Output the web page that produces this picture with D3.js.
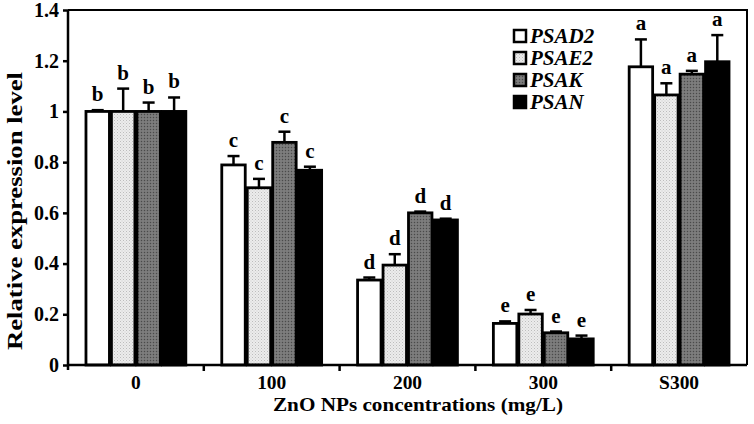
<!DOCTYPE html>
<html>
<head>
<meta charset="utf-8">
<script src="https://cdn.jsdelivr.net/npm/d3@7"></script>
<style>
  html, body { margin: 0; padding: 0; background: #fff; }
  svg { display: block; font-family: "Liberation Serif", "Times New Roman", serif; }
</style>
</head>
<body>
<svg id="chart" width="754" height="424"></svg>
<script>
// ---- data ----
const groups = ["0", "100", "200", "300", "S300"];
const seriesNames = ["PSAD2", "PSAE2", "PSAK", "PSAN"];
const PSAD2 = [1.0, 0.789, 0.335, 0.164, 1.176];
const PSAE2 = [1.0, 0.699, 0.394, 0.201, 1.065];
const PSAK  = [1.0, 0.878, 0.600, 0.127, 1.147];
const PSAN  = [1.0, 0.768, 0.572, 0.103, 1.196];
const PSAD2_err = [0.005, 0.035, 0.010, 0.008, 0.108];
const PSAE2_err = [0.090, 0.035, 0.043, 0.016, 0.046];
const PSAK_err  = [0.035, 0.042, 0.005, 0.005, 0.013];
const PSAN_err  = [0.055, 0.014, 0.005, 0.013, 0.105];
const letters = ["b", "c", "d", "e", "a"];
const yTicks = [0, 0.2, 0.4, 0.6, 0.8, 1, 1.2, 1.4];

(function () {
const values = [PSAD2, PSAE2, PSAK, PSAN];
const errors = [PSAD2_err, PSAE2_err, PSAK_err, PSAN_err];
const fills = ["#ffffff", "url(#pLight)", "url(#pDark)", "#000000"];

// ---- layout ----
const mLeft = 68, mRight = 747, mTop = 10, mBottom = 365;
const svg = d3.select("#chart");

// patterns
const defs = svg.append("defs");
const pl = defs.append("pattern").attr("id", "pLight").attr("patternUnits", "userSpaceOnUse")
  .attr("width", 3).attr("height", 3);
pl.append("rect").attr("width", 3).attr("height", 3).attr("fill", "#ececec");
pl.append("rect").attr("x", 0).attr("y", 0).attr("width", 1).attr("height", 1).attr("fill", "#bdbdbd");
pl.append("rect").attr("x", 1.5).attr("y", 1.5).attr("width", 1).attr("height", 1).attr("fill", "#cfcfcf");
const pd = defs.append("pattern").attr("id", "pDark").attr("patternUnits", "userSpaceOnUse")
  .attr("width", 3).attr("height", 3);
pd.append("rect").attr("width", 3).attr("height", 3).attr("fill", "#757575");
pd.append("rect").attr("x", 0).attr("y", 0).attr("width", 1).attr("height", 1).attr("fill", "#4a4a4a");
pd.append("rect").attr("x", 1.5).attr("y", 1.5).attr("width", 1).attr("height", 1).attr("fill", "#939393");

const y = d3.scaleLinear().domain([0, 1.4]).range([mBottom, mTop]);
const x0 = d3.scaleBand().domain(groups).range([mLeft, mRight]).paddingInner(0.25).paddingOuter(0.125);
const x1 = d3.scaleBand().domain(seriesNames).range([0, x0.bandwidth()]);

// frame (top and right)
svg.append("path")
  .attr("d", `M${mLeft},${mTop}H${mRight}V${mBottom}`)
  .attr("fill", "none").attr("stroke", "#000").attr("stroke-width", 2);

// bars
const gBars = svg.append("g");
groups.forEach((g, gi) => {
  seriesNames.forEach((s, si) => {
    const v = values[si][gi], e = errors[si][gi];
    const bx = x0(g) + x1(s);
    const cx = bx + x1.bandwidth() / 2;
    gBars.append("line")
      .attr("x1", cx).attr("x2", cx).attr("y1", y(v)).attr("y2", y(v + e))
      .attr("stroke", "#000").attr("stroke-width", 2.5);
    gBars.append("line")
      .attr("x1", cx - 6).attr("x2", cx + 6).attr("y1", y(v + e)).attr("y2", y(v + e))
      .attr("stroke", "#000").attr("stroke-width", 2.5);
    gBars.append("rect")
      .attr("x", bx + 1).attr("y", y(v))
      .attr("width", x1.bandwidth() - 2).attr("height", y(0) - y(v))
      .attr("fill", fills[si]).attr("stroke", "#000").attr("stroke-width", 2.8);
    gBars.append("text")
      .attr("x", cx).attr("y", y(v + e) - 9)
      .attr("text-anchor", "middle")
      .attr("font-size", 21).attr("font-weight", "bold")
      .text(letters[gi]);
  });
});

// y axis
const yAxis = svg.append("g").attr("transform", `translate(${mLeft},0)`)
  .call(d3.axisLeft(y).tickValues(yTicks).tickSize(5).tickSizeOuter(0).tickFormat(d => String(+d.toFixed(1))));
yAxis.select(".domain").attr("stroke-width", 2.5).attr("d", `M0,${mTop}V${mBottom + 5}`);
yAxis.selectAll(".tick line").attr("stroke-width", 2.5);
yAxis.selectAll(".tick text").attr("font-size", 20).attr("font-weight", "bold")
  .attr("font-family", "Liberation Serif").attr("fill", "#000").attr("x", -9);

// x axis
const step = x0.step();
const bounds = d3.range(1, groups.length).map(i => mLeft + i * step);
const xAxis = svg.append("g").attr("transform", `translate(0,${mBottom})`)
  .call(d3.axisBottom(x0).tickSize(0).tickSizeOuter(0));
xAxis.select(".domain").attr("stroke-width", 2.5).attr("d", `M${mLeft},0H${mRight}`);
xAxis.selectAll(".tick text").attr("font-size", 18).attr("font-weight", "bold")
  .attr("font-family", "Liberation Serif").attr("fill", "#000")
  .attr("y", 24).attr("dy", null)
  .attr("transform", "scale(1.08,1)");
xAxis.selectAll(".bound").data(bounds).enter().append("line")
  .attr("x1", d => d).attr("x2", d => d).attr("y1", 0).attr("y2", 6)
  .attr("stroke", "#000").attr("stroke-width", 2.5);

// axis titles
svg.append("text")
  .attr("x", 418).attr("y", 411)
  .attr("text-anchor", "middle").attr("font-size", 19).attr("font-weight", "bold")
  .attr("textLength", 290).attr("lengthAdjust", "spacingAndGlyphs")
  .text("ZnO NPs concentrations (mg/L)");
svg.append("text")
  .attr("transform", "translate(22,211) rotate(-90)")
  .attr("text-anchor", "middle").attr("font-size", 20).attr("font-weight", "bold")
  .attr("textLength", 278).attr("lengthAdjust", "spacingAndGlyphs")
  .text("Relative expression level");

// legend
const leg = svg.append("g").attr("transform", "translate(513,29)");
seriesNames.forEach((s, i) => {
  const row = leg.append("g").attr("transform", `translate(0,${i * 22})`);
  row.append("rect").attr("x", 1).attr("y", 1).attr("width", 12).attr("height", 12)
    .attr("fill", fills[i]).attr("stroke", "#000").attr("stroke-width", 2.5);
  row.append("text").attr("x", 17).attr("y", 14)
    .attr("font-size", 21).attr("font-weight", "bold").attr("font-style", "italic")
    .text(s);
});
})();
</script>
</body>
</html>
